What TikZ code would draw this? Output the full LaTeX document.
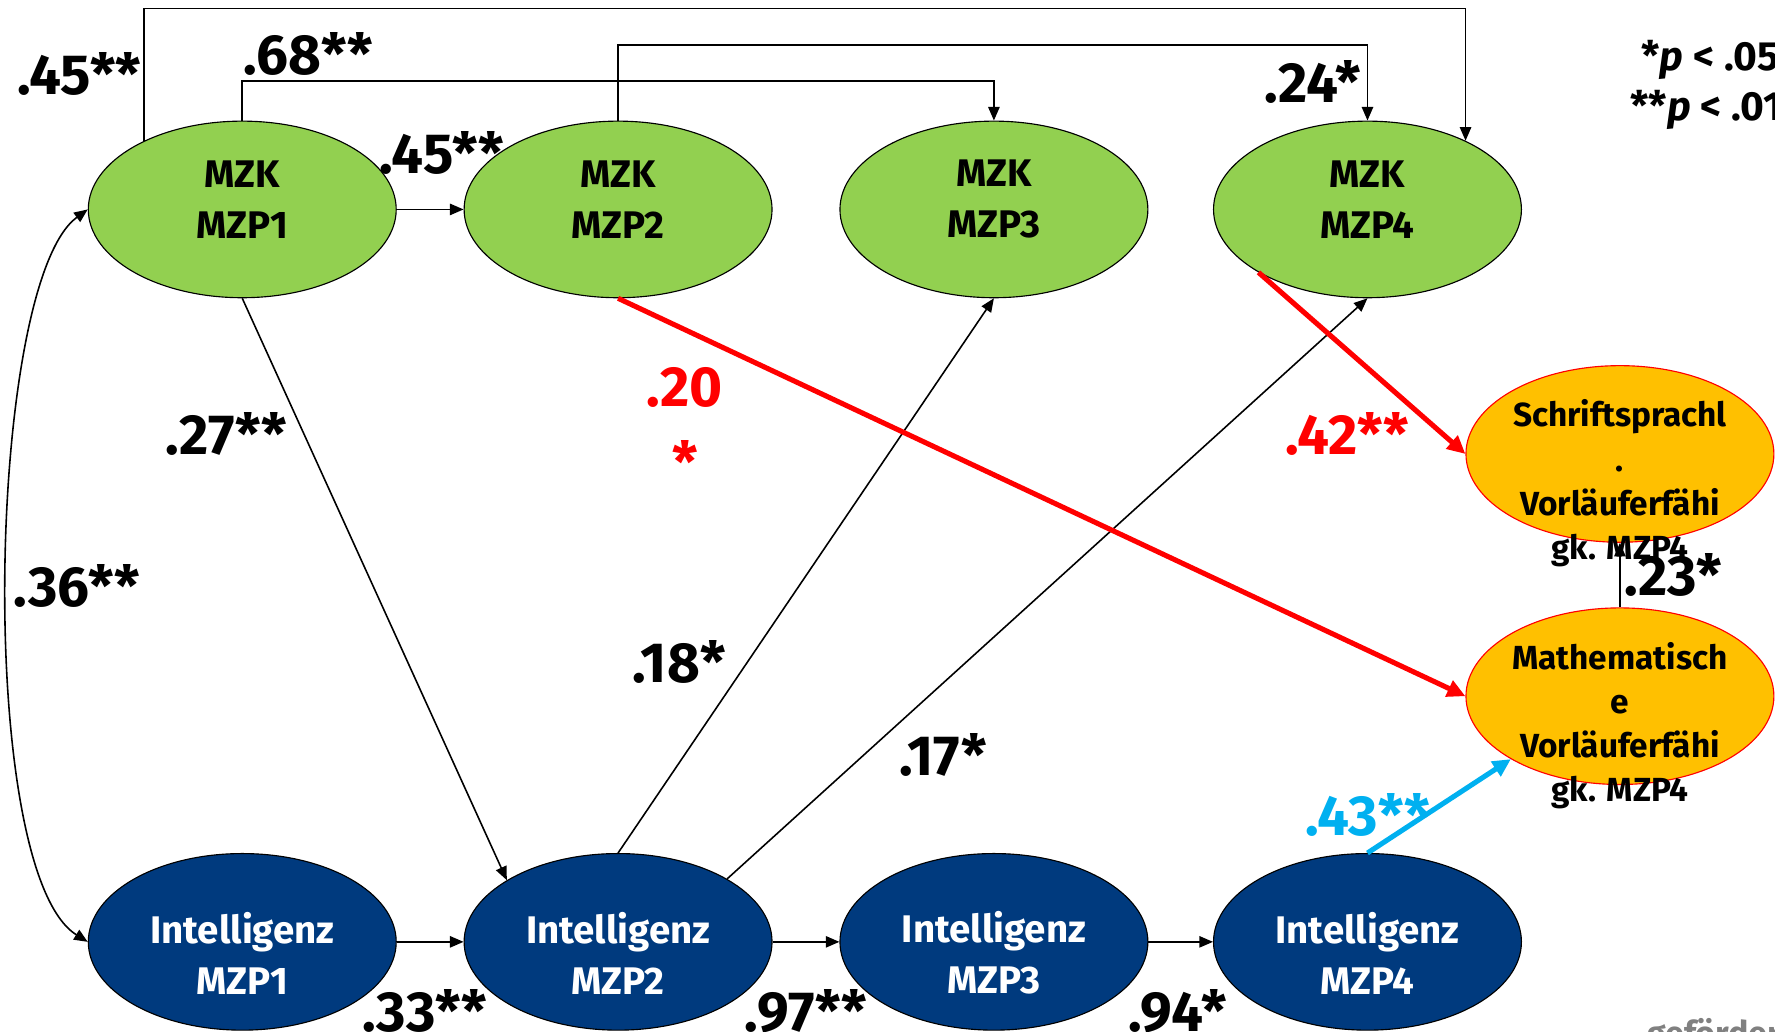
\documentclass[tikz,border=0pt]{standalone}
\usepackage{fontspec}
\setmainfont{Fira Sans}
\usetikzlibrary{shapes.geometric,arrows.meta,calc}
\definecolor{grn}{HTML}{92D050}
\definecolor{navy}{HTML}{003A7E}
\definecolor{org}{HTML}{FFC000}
\definecolor{cyn}{HTML}{00B0F0}
\begin{document}
\begin{tikzpicture}[x=1pt,y=-1pt,
  ell/.style={ellipse, draw=black, line width=1pt, minimum width=272pt, minimum height=156pt, inner sep=0pt},
  mzk/.style={ell, fill=grn},
  intl/.style={ell, fill=navy},
  ntext/.style={align=center, inner sep=0pt, font=\fontsize{34}{45}\selectfont\bfseries},
  outc/.style={ellipse, draw=red, line width=1pt, fill=org, minimum width=272pt, minimum height=156pt, inner sep=0pt},
  otext/.style={align=center, font=\fontsize{29.5}{39}\selectfont\bfseries, inner sep=0pt},
  lab/.style={font=\fontsize{50}{50}\selectfont\bfseries, inner sep=0pt},
  arr/.style={-{Triangle[length=12pt,width=10pt]}, line width=1.4pt},
  rarr/.style={line width=4.5pt, -{Triangle[length=16pt,width=15pt]}},
]
\useasboundingbox (0,0) rectangle (1568,911);
\clip (0,0) rectangle (1568,911);

% nodes
\node[mzk] (m1) at (214,185) {};
\node[mzk] (m2) at (546,185) {};
\node[mzk] (m3) at (878,185) {};
\node[mzk] (m4) at (1208,185) {};
\node[intl] (i1) at (214,832) {};
\node[intl] (i2) at (546,832) {};
\node[intl] (i3) at (878,832) {};
\node[intl] (i4) at (1208,832) {};
\node[outc] (s) at (1431,401) {};
\node[outc] (ma) at (1431,615) {};

\node[ntext] (m1t) at ($(m1)+(0,-9)$) {MZK\\MZP1};
\node[ntext] (m2t) at ($(m2)+(0,-9)$) {MZK\\MZP2};
\node[ntext] (m3t) at ($(m3)+(0,-9)$) {MZK\\MZP3};
\node[ntext] (m4t) at ($(m4)+(0,-9)$) {MZK\\MZP4};
\node[ntext, text=white] (i1t) at ($(i1)+(0,10)$) {Intelligenz\\MZP1};
\node[ntext, text=white] (i2t) at ($(i2)+(0,10)$) {Intelligenz\\MZP2};
\node[ntext, text=white] (i3t) at ($(i3)+(0,10)$) {Intelligenz\\MZP3};
\node[ntext, text=white] (i4t) at ($(i4)+(0,10)$) {Intelligenz\\MZP4};

% connectors (black)
\draw[arr] (m1) -- (m2);
\draw[arr] (i1) -- (i2);
\draw[arr] (i2) -- (i3);
\draw[arr] (i3) -- (i4);
\draw[arr] (m1.145) -- ++(0,-117) -| (m4.35);
\draw[arr] (m1.north) -- ++(0,-35) -| (m3.north);
\draw[arr] (m2.north) -- ++(0,-67) -| (m4.north);
\draw[arr] (m1.south) -- (i2.151);
\draw[arr] (i2.north) -- (m3.south);
\draw[arr] (i2.30) -- (m4.south);
\draw[{Triangle[length=12pt,width=10pt]}-{Triangle[length=12pt,width=10pt]}, line width=1.4pt]
  (i1.west) .. controls (-22,770) and (-12,250) .. (m1.west);
\draw[arr] (ma.north) -- (s.south);

% coloured connectors
\draw[rarr, red] (m2.south) -- (ma.west);
\draw[rarr, red] (m4.210) -- (s.west);
\draw[rarr, cyn] (i4.north) -- (ma.210);

% orange node texts
\node[otext] (st) at ($(s.center)+(0,26)$) {Schriftsprachl\\.\\Vorläuferfähi\\gk. MZP4};
\node[otext] (mt) at ($(ma.center)+(0,26)$) {Mathematisch\\e\\Vorläuferfähi\\gk. MZP4};

% labels
\node[lab] (l1) at (70,65) {.45**};
\node[lab] (l2) at (272,48) {.68**};
\node[lab] (l3) at (390,135) {.45**};
\node[lab] (l4) at (1160,72) {.24*};
\node[lab] (l5) at (200,383) {.27**};
\node[lab, red] (l6) at (605,342) {.20};
\node[lab, red] (l6b) at (605,408) {*};
\node[lab, red] (l7) at (1190,383) {.42**};
\node[lab] (l8) at (68,518) {.36**};
\node[lab] (l9) at (600,585) {.18*};
\node[lab] (l10) at (833,667) {.17*};
\node[lab, cyn] (l11) at (1208,720) {.43**};
\node[lab] (l12) at (1478,508) {.23*};
\node[lab] (l13) at (375,893) {.33**};
\node[lab] (l14) at (712,893) {.97**};
\node[lab] (l15) at (1040,893) {.94*};

% legend
\node[anchor=west, inner sep=0pt, font=\fontsize{36}{36}\selectfont\bfseries] (p1) at (1450,53) {*\textit{p} < .05};
\node[anchor=west, inner sep=0pt, font=\fontsize{36}{36}\selectfont\bfseries] (p2) at (1440,97) {**\textit{p} < .01};
\node[anchor=west, inner sep=0pt, text=gray, font=\fontsize{30}{30}\selectfont\bfseries] (gf) at (1455,915) {gefördert};
\end{tikzpicture}
\end{document}
